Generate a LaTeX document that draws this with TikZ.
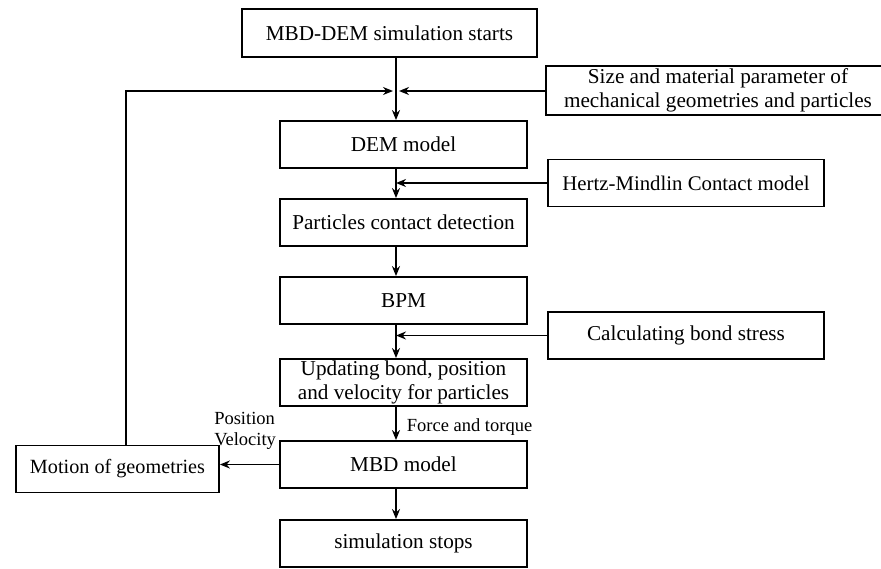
\documentclass[tikz,border=0pt]{standalone}
\usepackage{fontspec}
\setmainfont{Liberation Serif}
\usetikzlibrary{arrows.meta,positioning}
\tikzset{>={Stealth[length=10pt,width=8pt]}}

\begin{document}
\begin{tikzpicture}[x=1pt,y=-1pt,
  box/.style={draw,line width=1.8pt,minimum height=47pt,inner sep=2pt,
    font=\fontsize{21.2}{24}\selectfont,align=center},
  flow/.style={->,line width=1.8pt},
  lbl/.style={font=\fontsize{18.5}{21}\selectfont,inner sep=1pt}]
\useasboundingbox (0,0) rectangle (881,568);
% main column
\node[box,minimum width=295pt,minimum height=48pt] (start) at (389.5,33) {MBD-DEM simulation starts};
\node[box,minimum width=247pt] (dem) at (403.5,144.5) {DEM model};
\node[box,minimum width=247pt] (pcd) at (403.5,222.5) {Particles contact detection};
\node[box,minimum width=247pt] (bpm) at (403.5,300.5) {BPM};
\node[box,minimum width=247pt,inner sep=0pt] (upd) at (403.5,382.5) {Updating bond, position\\and velocity for particles};
\node[box,minimum width=247pt] (mbd) at (403.5,464.5) {MBD model};
\node[box,minimum width=247pt] (stop) at (403.5,543.5) {simulation stops};
% side boxes
\node[box,draw=none,minimum width=342pt,inner sep=0pt] (size) at (718,90.5) {Size and material parameter of\\mechanical geometries and particles};
\draw[line width=1.8pt] ([xshift=30pt]size.north east) -| (size.south west) -- ([xshift=30pt]size.south east);
\node[box,minimum width=276pt,font=\fontsize{20.8}{24}\selectfont] (hertz) at (686,183) {Hertz-Mindlin Contact model};
\node[box,minimum width=276pt] (calc) at (686,335.5) {Calculating bond stress};
\node[box,minimum width=203pt,font=\fontsize{20.2}{24}\selectfont] (motion) at (117.5,469) {Motion of geometries};
% junctions on the column
\coordinate (j1) at (396,91);
\coordinate (j2) at (396,183);
\coordinate (j3) at (396,335.5);
% connectors
\draw[flow] (start.south -| j1) -- (dem.north -| j1);
\draw[flow] (size.west |- j1) -- ([xshift=3pt]j1);
\draw[flow] ([xshift=8.5pt]motion.north) |- ([xshift=-3pt]j1);
\draw[flow] (dem.south -| j2) -- (pcd.north -| j2);
\draw[flow] (hertz.west) -- (j2);
\draw[flow] (pcd.south -| j2) -- (bpm.north -| j2);
\draw[flow] (bpm.south -| j3) -- (upd.north -| j3);
\draw[flow] (calc.west) -- (j3);
\draw[flow] (upd.south -| j3) -- node[lbl,right=9pt,pos=0.6] {Force and torque} (mbd.north -| j3);
\draw[flow] (mbd.west) -- (mbd.west -| motion.east);
\node[lbl,align=left,anchor=east] (pv) at ([xshift=-2pt,yshift=9pt]mbd.north west) {Position\\Velocity};
\draw[flow] (mbd.south -| j3) -- (stop.north -| j3);
\end{tikzpicture}
\end{document}
